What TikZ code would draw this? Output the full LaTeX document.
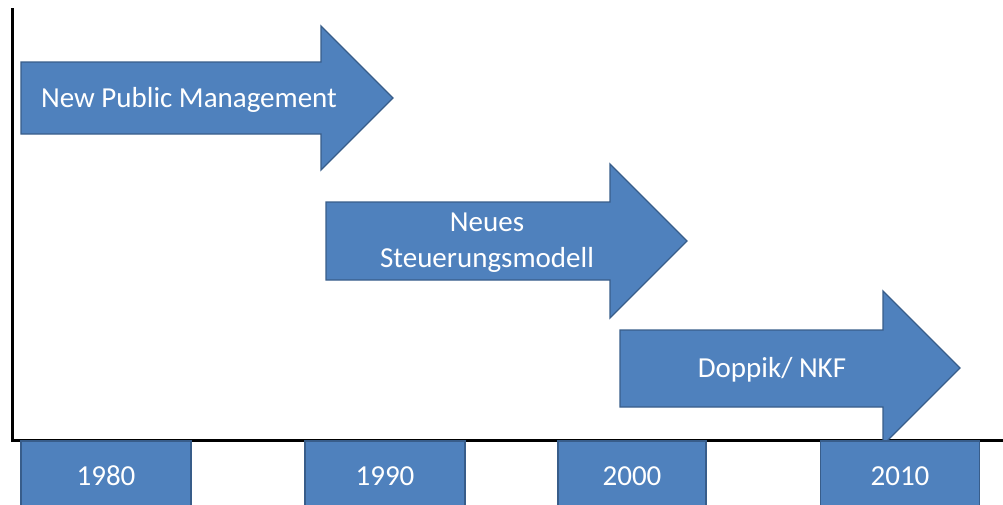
\documentclass[tikz,border=0pt]{standalone}
\usepackage{fontspec}
\setmainfont{Carlito}
\usepackage{tikz}
\usetikzlibrary{positioning}

\definecolor{officeblue}{HTML}{4F81BD}
\definecolor{officeedge}{HTML}{385D8A}

\begin{document}
\begin{tikzpicture}[x=1pt, y=-1pt,
                phase/.style={fill=officeblue, draw=officeedge, line width=1.3pt, line join=miter},
                phasetext/.style={text=white, align=center, font=\fontsize{29}{36}\selectfont},
                year/.style={rectangle, fill=officeblue, draw=officeedge, line width=1.3pt, minimum height=70pt, inner sep=0pt, text=white, font=\fontsize{29}{36}\selectfont},
                axis/.style={line width=3pt}
            ]
                \clip (0,0) rectangle (1003,504);

                % Axes
                \coordinate (top) at (12,8);
                \coordinate (origin) at (12,440);
                \coordinate (right) at (1010,440);
                \draw[axis] (top) -- (origin) -- (right);

                % Phase arrows
                \draw[phase] (21,62) -- (321,62) -- (321,26) -- (393,98) -- (321,170) -- (321,134) -- (21,134) -- cycle;
                \draw[phase] (326,202) -- (610,202) -- (610,164) -- (687,241) -- (610,318) -- (610,280) -- (326,280) -- cycle;
                \draw[phase] (620,330) -- (883,330) -- (883,291) -- (960,368) -- (883,445) -- (883,407) -- (620,407) -- cycle;

                % Phase labels
                \node[phasetext] (npm) at (189,100) {New Public Management};
                \node[phasetext] (nsm) at (487,243) {Neues\\Steuerungsmodell};
                \node[phasetext] (nkf) at (772,370) {Doppik/ NKF};

                % Years
                \node[year, minimum width=170pt] (y1980) at (106,476) {1980};
                \node[year, minimum width=160pt] (y1990) at (385,476) {1990};
                \node[year, minimum width=148pt] (y2000) at (632,476) {2000};
                \node[year, minimum width=159pt] (y2010) at (900,476) {2010};
            \end{tikzpicture}
\end{document}
